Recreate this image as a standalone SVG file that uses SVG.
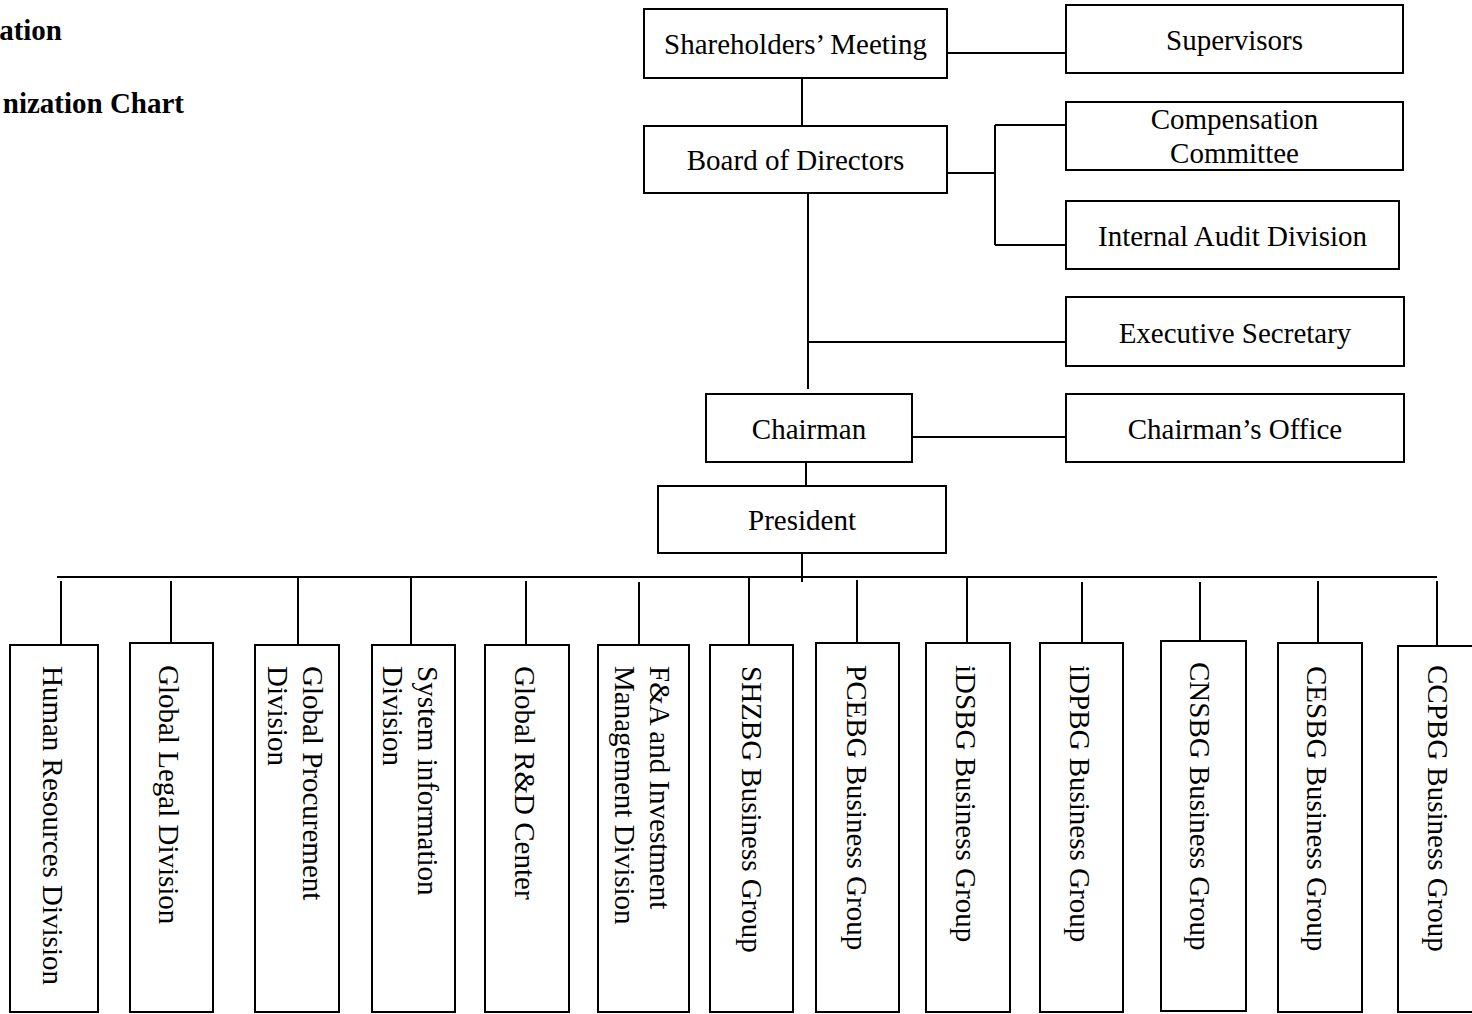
<svg xmlns="http://www.w3.org/2000/svg" width="1472" height="1014" viewBox="0 0 1472 1014">
<style>
.box{fill:#fff;stroke:#000;stroke-width:2}
.ln{stroke:#000;stroke-width:2;fill:none}
.t{font-family:"Liberation Serif","Times New Roman",serif;font-size:29px;fill:#000}
.c{text-anchor:middle}
.title{font-family:"Liberation Serif","Times New Roman",serif;font-size:29px;font-weight:bold;fill:#000;text-anchor:end}
</style>
<rect width="1472" height="1014" fill="#fff"/>
<g id="titles">
<text class="title" x="62" y="40">ation</text>
<text class="title" x="184" y="113">nization Chart</text>
</g>
<g id="connectors">
<line class="ln" x1="802" y1="78" x2="802" y2="126"/>
<line class="ln" x1="947" y1="53" x2="1066" y2="53"/>
<line class="ln" x1="947" y1="173" x2="995" y2="173"/>
<line class="ln" x1="995" y1="125" x2="995" y2="245"/>
<line class="ln" x1="995" y1="125" x2="1066" y2="125"/>
<line class="ln" x1="995" y1="245" x2="1066" y2="245"/>
<line class="ln" x1="808" y1="193" x2="808" y2="389"/>
<line class="ln" x1="808" y1="342" x2="1066" y2="342"/>
<line class="ln" x1="912" y1="437" x2="1066" y2="437"/>
<line class="ln" x1="806" y1="462" x2="806" y2="486"/>
<line class="ln" x1="802" y1="553" x2="802" y2="582"/>
<line class="ln" x1="57" y1="577" x2="1437" y2="577"/>
<line class="ln" x1="61" y1="581" x2="61" y2="645"/>
<line class="ln" x1="171" y1="581" x2="171" y2="643"/>
<line class="ln" x1="298" y1="577" x2="298" y2="645"/>
<line class="ln" x1="411" y1="577" x2="411" y2="645"/>
<line class="ln" x1="526" y1="581" x2="526" y2="645"/>
<line class="ln" x1="639" y1="582" x2="639" y2="645"/>
<line class="ln" x1="749" y1="577" x2="749" y2="645"/>
<line class="ln" x1="857" y1="580" x2="857" y2="643"/>
<line class="ln" x1="967" y1="577" x2="967" y2="643"/>
<line class="ln" x1="1082" y1="582" x2="1082" y2="643"/>
<line class="ln" x1="1200" y1="582" x2="1200" y2="641"/>
<line class="ln" x1="1318" y1="581" x2="1318" y2="643"/>
<line class="ln" x1="1437" y1="581" x2="1437" y2="646"/>
</g>
<g id="shareholders"><rect class="box" x="644" y="9" width="303" height="69"/><text class="t c" x="795.5" y="54">Shareholders’ Meeting</text></g>
<g id="board"><rect class="box" x="644" y="126" width="303" height="67"/><text class="t c" x="795.5" y="170">Board of Directors</text></g>
<g id="supervisors"><rect class="box" x="1066" y="5" width="337" height="68"/><text class="t c" x="1234.5" y="50">Supervisors</text></g>
<g id="compensation"><rect class="box" x="1066" y="102" width="337" height="68"/><text class="t c" x="1234.5" y="129">Compensation</text><text class="t c" x="1234.5" y="163">Committee</text></g>
<g id="audit"><rect class="box" x="1066" y="201" width="333" height="68"/><text class="t c" x="1232.5" y="246">Internal Audit Division</text></g>
<g id="exec"><rect class="box" x="1066" y="297" width="338" height="69"/><text class="t c" x="1235" y="343">Executive Secretary</text></g>
<g id="chairman"><rect class="box" x="706" y="394" width="206" height="68"/><text class="t c" x="809" y="439">Chairman</text></g>
<g id="chairman-office"><rect class="box" x="1066" y="394" width="338" height="68"/><text class="t c" x="1235" y="439">Chairman’s Office</text></g>
<g id="president"><rect class="box" x="658" y="486" width="288" height="67"/><text class="t c" x="802" y="530">President</text></g>
<g id="hr"><rect class="box" x="10" y="645" width="88" height="367"/><text class="t" transform="translate(43,666) rotate(90)">Human Resources Division</text></g>
<g id="legal"><rect class="box" x="130" y="643" width="83" height="369"/><text class="t" transform="translate(159,665) rotate(90)">Global Legal Division</text></g>
<g id="procurement"><rect class="box" x="255" y="645" width="84" height="367"/><text class="t" transform="translate(303,666) rotate(90)">Global Procurement</text><text class="t" transform="translate(268,666) rotate(90)">Division</text></g>
<g id="sysinfo"><rect class="box" x="372" y="645" width="83" height="367"/><text class="t" transform="translate(418,666) rotate(90)">System information</text><text class="t" transform="translate(383,666) rotate(90)">Division</text></g>
<g id="rd"><rect class="box" x="485" y="645" width="84" height="367"/><text class="t" transform="translate(515,666) rotate(90)">Global R&amp;D Center</text></g>
<g id="fa"><rect class="box" x="598" y="645" width="91" height="367"/><text class="t" transform="translate(650,666) rotate(90)">F&amp;A and Investment</text><text class="t" transform="translate(615,666) rotate(90)">Management Division</text></g>
<g id="shzbg"><rect class="box" x="710" y="645" width="83" height="367"/><text class="t" transform="translate(742,666) rotate(90)">SHZBG Business Group</text></g>
<g id="pcebg"><rect class="box" x="816" y="643" width="83" height="369"/><text class="t" transform="translate(847,665) rotate(90)">PCEBG Business Group</text></g>
<g id="idsbg"><rect class="box" x="926" y="643" width="84" height="369"/><text class="t" transform="translate(956,665) rotate(90)">iDSBG Business Group</text></g>
<g id="idpbg"><rect class="box" x="1040" y="643" width="83" height="369"/><text class="t" transform="translate(1070,665) rotate(90)">iDPBG Business Group</text></g>
<g id="cnsbg"><rect class="box" x="1161" y="641" width="85" height="370"/><text class="t" transform="translate(1190,662) rotate(90)">CNSBG Business Group</text></g>
<g id="cesbg"><rect class="box" x="1278" y="643" width="84" height="369"/><text class="t" transform="translate(1307,666) rotate(90)">CESBG Business Group</text></g>
<g id="ccpbg"><rect class="box" x="1398" y="646" width="84" height="366"/><text class="t" transform="translate(1428,665) rotate(90)">CCPBG Business Group</text></g>
</svg>
